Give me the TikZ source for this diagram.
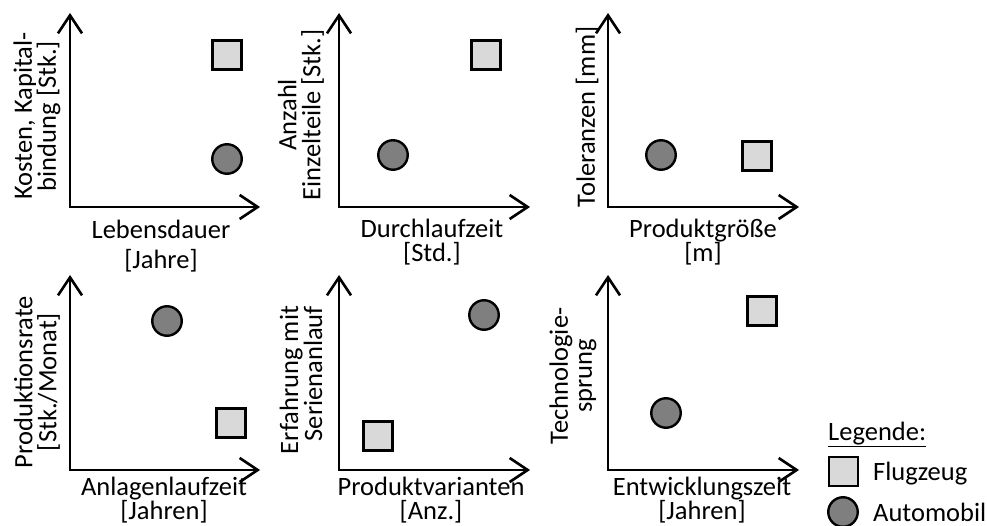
\documentclass[tikz,border=0pt]{standalone}
\usepackage{fontspec}
\setmainfont{Carlito}
\usetikzlibrary{arrows.meta}
\definecolor{planefill}{HTML}{D9D9D9}
\definecolor{carfill}{HTML}{7F7F7F}
\begin{document}
\begin{tikzpicture}[x=1pt,y=-1pt,
  axis/.style={line width=2.6pt,
    {Straight Barb[length=18pt,width=24pt]}-{Straight Barb[length=18pt,width=24pt]}},
  plane/.style={draw, line width=2.4pt, fill=planefill, rectangle,
    minimum size=29pt, inner sep=0pt},
  car/.style={draw, line width=2.4pt, fill=carfill, circle,
    minimum size=29.5pt, inner sep=0pt},
  lbl/.style={font=\fontsize{26.5}{24}\selectfont, align=center, inner sep=0pt},
  ylbl/.style={lbl, rotate=90}
]
\useasboundingbox (0,0) rectangle (987,526);

% ---- panel 1: Lebensdauer
\coordinate (t1) at (70,13);  \coordinate (o1) at (70,207); \coordinate (e1) at (260,207);
\draw[axis] (t1) -- (o1) -- (e1);
\node[plane] (p1) at (227,55) {};
\node[car]   (c1) at (227,159) {};
\node[lbl] (x1) at (161,246) {Lebensdauer\\[6pt][Jahre]};
\node[ylbl] (y1) at (37,116) {Kosten, Kapital-\\bindung [Stk.]};

% ---- panel 2: Durchlaufzeit
\coordinate (t2) at (339,13); \coordinate (o2) at (339,207); \coordinate (e2) at (530,207);
\draw[axis] (t2) -- (o2) -- (e2);
\node[plane] (p2) at (486,55) {};
\node[car]   (c2) at (393,155) {};
\node[lbl] (x2) at (432,242) {Durchlaufzeit\\{}[Std.]};
\node[ylbl] (y2) at (301,115) {Anzahl\\Einzelteile [Stk.]};

% ---- panel 3: Produktgroesse
\coordinate (t3) at (608,13); \coordinate (o3) at (608,207); \coordinate (e3) at (799,207);
\draw[axis] (t3) -- (o3) -- (e3);
\node[plane] (p3) at (757,156) {};
\node[car]   (c3) at (661,155) {};
\node[lbl] (x3) at (703,242) {Produktgröße\\{}[m]};
\node[ylbl] (y3) at (587,117) {Toleranzen [mm]};

% ---- panel 4: Anlagenlaufzeit
\coordinate (t4) at (70,275);  \coordinate (o4) at (70,470); \coordinate (e4) at (260,470);
\draw[axis] (t4) -- (o4) -- (e4);
\node[plane] (p4) at (231,423) {};
\node[car]   (c4) at (167,321) {};
\node[lbl] (x4) at (164,500) {Anlagenlaufzeit\\{}[Jahren]};
\node[ylbl] (y4) at (37,382) {Produktionsrate\\{}[Stk./Monat]};

% ---- panel 5: Produktvarianten
\coordinate (t5) at (339,275); \coordinate (o5) at (339,470); \coordinate (e5) at (530,470);
\draw[axis] (t5) -- (o5) -- (e5);
\node[plane] (p5) at (378,436) {};
\node[car]   (c5) at (484,315) {};
\node[lbl] (x5) at (431,500) {Produktvarianten\\{}[Anz.]};
\node[ylbl, align=right] (y5) at (301,380) {Erfahrung mit\\Serienanlauf};

% ---- panel 6: Entwicklungszeit
\coordinate (t6) at (608,275); \coordinate (o6) at (608,470); \coordinate (e6) at (799,470);
\draw[axis] (t6) -- (o6) -- (e6);
\node[plane] (p6) at (762,311) {};
\node[car]   (c6) at (666,413) {};
\node[lbl] (x6) at (702,500) {Entwicklungszeit\\{}[Jahren]};
\node[ylbl] (y6) at (573,376) {Technologie-\\sprung};

% ---- legend
\node[lbl, anchor=base west] (lg) at (828,440) {\underline{Legende:}};
\node[plane] (lp) at (843.5,471.5) {};
\node[lbl, anchor=base west] (lpt) at (873,480) {Flugzeug};
\node[car] (lc) at (843,512) {};
\node[lbl, anchor=base west] (lct) at (873,521) {Automobil};
\end{tikzpicture}
\end{document}
